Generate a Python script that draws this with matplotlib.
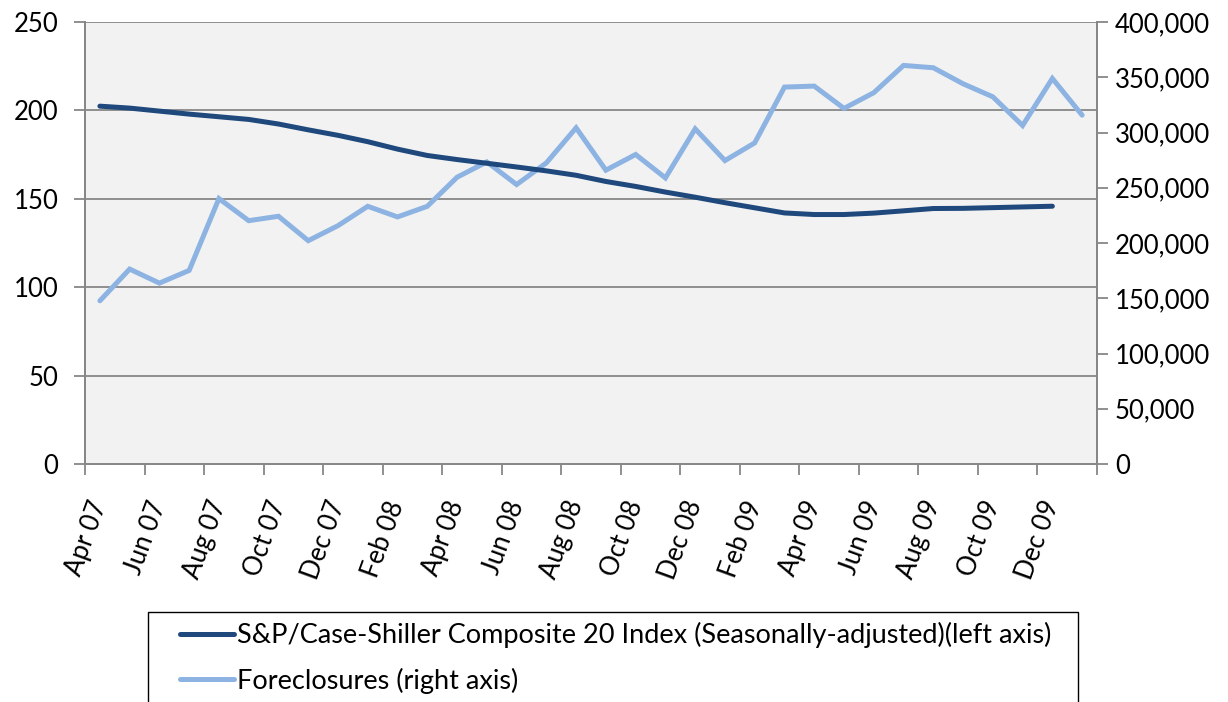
import matplotlib
matplotlib.use("Agg")
import matplotlib.pyplot as plt
from matplotlib.patches import Rectangle
from matplotlib.ticker import FuncFormatter

months = ["Apr 07", "May 07", "Jun 07", "Jul 07", "Aug 07", "Sep 07", "Oct 07", "Nov 07",
          "Dec 07", "Jan 08", "Feb 08", "Mar 08", "Apr 08", "May 08", "Jun 08", "Jul 08",
          "Aug 08", "Sep 08", "Oct 08", "Nov 08", "Dec 08", "Jan 09", "Feb 09", "Mar 09",
          "Apr 09", "May 09", "Jun 09", "Jul 09", "Aug 09", "Sep 09", "Oct 09", "Nov 09",
          "Dec 09", "Jan 10"]

case_shiller = [202.4, 201.3, 199.6, 197.9, 196.4, 194.9, 192.3, 189.0, 185.9, 182.3,
                178.1, 174.5, 172.2, 170.1, 168.0, 165.8, 163.3, 159.8, 157.0, 153.8,
                150.9, 147.8, 144.9, 142.0, 141.1, 141.1, 141.9, 143.2, 144.5, 144.6,
                145.0, 145.4, 145.8]

foreclosures = [147700, 176400, 163700, 175200, 240200, 220200, 224200, 202100, 215700,
                233200, 223600, 233200, 259500, 273400, 252900, 272500, 304200, 265900,
                280100, 258900, 303300, 274600, 290600, 341100, 342000, 321800, 336000,
                360700, 358600, 344100, 332300, 306300, 348900, 315700]

cs_label = "S&P/Case-Shiller Composite 20 Index (Seasonally-adjusted)(left axis)"
fc_label = "Foreclosures (right axis)"

dark = "#1F497D"
light = "#8DB3E2"
gridc = "#878787"

tick_font = ["Lato", "DejaVu Sans"]
leg_font = ["Lato", "DejaVu Sans"]

fig = plt.figure(figsize=(12.28, 7.02), dpi=100)
W, H = 1228, 702
pos = [85 / W, 1 - 464 / H, (1097 - 85) / W, (464 - 22) / H]
ax = fig.add_axes(pos)
ax2 = ax.twinx()

ax.set_facecolor("#F2F2F2")
n = len(months)
x_cs = list(range(len(case_shiller)))
x_fc = list(range(len(foreclosures)))

ax2.set_zorder(ax.get_zorder() + 1)
ax2.patch.set_visible(False)
lf, = ax2.plot(x_fc, foreclosures, color=light, lw=3.6, solid_capstyle="round",
               solid_joinstyle="miter", zorder=3)
ax3 = fig.add_axes(pos, sharex=ax)
ax3.patch.set_visible(False)
ax3.set_zorder(ax2.get_zorder() + 1)
lc, = ax3.plot(x_cs, case_shiller, color=dark, lw=3.6, solid_capstyle="round", zorder=4)
ax3.set_ylim(0, 250)
ax3.axis("off")

ax.set_xlim(-0.5, n - 0.5)
ax.set_ylim(0, 250)
ax2.set_ylim(0, 400000)

ax.set_yticks(range(0, 251, 50))
ax2.set_yticks(range(0, 400001, 50000))
ax2.yaxis.set_major_formatter(FuncFormatter(lambda v, p: f"{int(v):,}"))

ax.yaxis.grid(True, color=gridc, lw=1.3)
ax.set_axisbelow(True)

ax.set_xticks([i - 0.5 for i in range(0, n + 1, 2)])
ax.set_xticklabels([])
ax.set_xticks(list(range(0, n, 2)), minor=True)
ax.set_xticklabels([months[i] for i in range(0, n, 2)], minor=True,
                   rotation=70, ha="right", va="center", rotation_mode="anchor",
                   family=tick_font, fontsize=18.5)
ax.tick_params(axis="x", which="minor", length=0, pad=27)
ax.tick_params(axis="x", which="major", length=8, width=1.3, color=gridc, direction="out")

for a in (ax, ax2):
    for s in a.spines.values():
        s.set_color(gridc)
        s.set_linewidth(1.3)
ax.spines["top"].set_visible(False)
ax2.spines["top"].set_visible(False)

ax.tick_params(axis="y", length=8, width=1.3, color=gridc, pad=11)
ax2.tick_params(axis="y", length=8, width=1.3, color=gridc, pad=5)
for t in ax.get_yticklabels() + ax2.get_yticklabels():
    t.set_family(tick_font)
    t.set_fontsize(18.5)

# legend box
rect = Rectangle((148 / W, -0.05), (1078 - 148) / W, 0.05 + (1 - 612 / H),
                 transform=fig.transFigure, fill=False, edgecolor="black", lw=1.0)
fig.patches.append(rect)
leg = fig.legend([lc, lf], [cs_label, fc_label], loc="upper left",
                 bbox_to_anchor=(180 / W, 1 - 622 / H), frameon=False,
                 prop={"family": leg_font, "size": 19.5}, handlelength=2.0,
                 handletextpad=0.1, labelspacing=0.72, borderpad=0, borderaxespad=0)

fig.savefig("out.png", dpi=100)
